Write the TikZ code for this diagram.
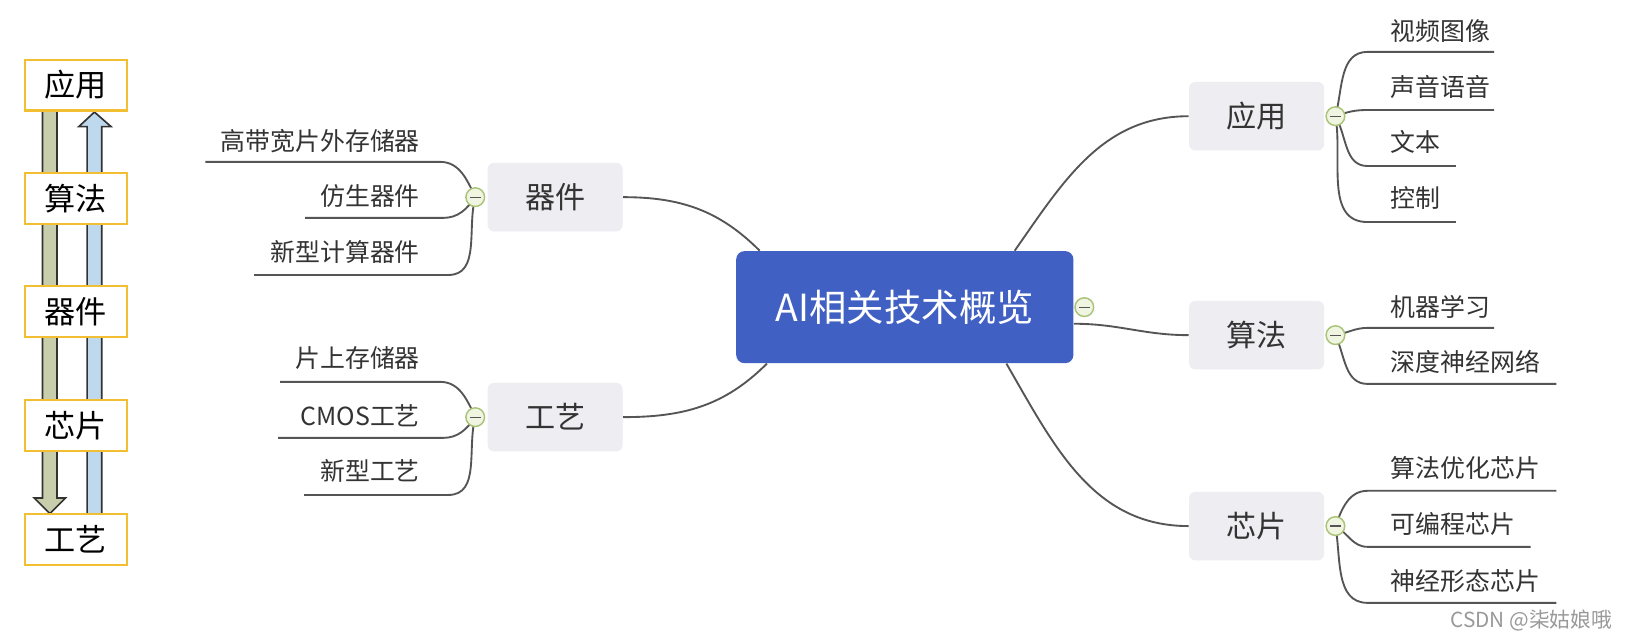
\documentclass[tikz,border=0pt]{standalone}
\usepackage{fontspec}
\setmainfont{Noto Sans CJK SC}
\usetikzlibrary{backgrounds}

\definecolor{stackedge}{RGB}{242,190,50}
\definecolor{downfill}{RGB}{200,206,172}
\definecolor{upfill}{RGB}{190,216,238}
\definecolor{hubblue}{RGB}{65,96,195}
\definecolor{topicgrey}{RGB}{237,237,242}
\definecolor{linegrey}{RGB}{85,85,85}
\definecolor{inkgrey}{RGB}{51,51,51}
\definecolor{foldedge}{RGB}{170,195,120}
\definecolor{foldfill}{RGB}{240,245,225}

\tikzset{
  stackbox/.style={draw=stackedge, line width=1pt, fill=white, minimum width=49pt,
    minimum height=24.5pt, inner sep=0pt, font=\fontsize{15}{15}\selectfont},
  hub/.style={fill=hubblue, text=white, rounded corners=4pt, minimum width=162.5pt,
    minimum height=54pt, font=\fontsize{18}{18}\selectfont},
  topic/.style={fill=topicgrey, text=inkgrey, rounded corners=3pt, minimum width=65pt,
    minimum height=33pt, font=\fontsize{14.5}{14.5}\selectfont},
  fold/.style={circle, draw=foldedge, fill=foldfill, line width=0.7pt, minimum size=9pt,
    inner sep=0pt, path picture={\draw[line width=0.6pt, linegrey]
      ([xshift=-2.6pt]path picture bounding box.center) --
      ([xshift=2.6pt]path picture bounding box.center);}},
  leafL/.style={anchor=east, inner sep=0pt, text height=0.88em, text depth=0.12em,
    text=inkgrey, font=\fontsize{12}{12}\selectfont},
  leafR/.style={leafL, anchor=west},
  twig/.style={draw=linegrey, line width=0.9pt},
  blockdown/.style={draw=black!80, line width=0.8pt, fill=downfill},
  blockup/.style={draw=black!80, line width=0.8pt, fill=upfill},
  wmark/.style={anchor=east, inner sep=0pt, text=black!40, font=\fontsize{10}{10}\selectfont},
}

\begin{document}
\begin{tikzpicture}[x=0.5pt,y=-0.5pt]
\useasboundingbox (0,0) rectangle (1568,615);

% stack on the left
\node[stackbox] (s-app) at (73,82) {应用};
\node[stackbox] (s-alg) at (73,191) {算法};
\node[stackbox] (s-dev) at (73,300) {器件};
\node[stackbox] (s-chip) at (73,410) {芯片};
\node[stackbox] (s-proc) at (73,520) {工艺};

% mind map
\node[hub] (ai) at (872,296) {AI相关技术概览};
\node[fold] (f-ai) at (1045,296) {};

\node[topic] (dev) at (535,190) {器件};
\node[fold] (f-dev) at (458,190) {};
\node[topic] (proc) at (535,402) {工艺};
\node[fold] (f-proc) at (458,402) {};
\node[topic] (app) at (1211,112) {应用};
\node[fold] (f-app) at (1287,112) {};
\node[topic] (alg) at (1211,323) {算法};
\node[fold] (f-alg) at (1287,323) {};
\node[topic] (chip) at (1211,507) {芯片};
\node[fold] (f-chip) at (1287,507) {};

% leaves, left
\node[leafL] (hbm) at (405,137) {高带宽片外存储器};
\node[leafL] (bio) at (405,190) {仿生器件};
\node[leafL] (ncd) at (405,244) {新型计算器件};
\node[leafL] (sram) at (405,347) {片上存储器};
\node[leafL] (cmos) at (405,402) {CMOS工艺};
\node[leafL] (newp) at (405,455) {新型工艺};
\coordinate (hbm-a) at (198,156);  \coordinate (hbm-b) at (424,156);
\coordinate (bio-a) at (294,210);  \coordinate (bio-b) at (427,210);
\coordinate (ncd-a) at (245,265);  \coordinate (ncd-b) at (432,265);
\coordinate (sram-a) at (270,368); \coordinate (sram-b) at (424,368);
\coordinate (cmos-a) at (268,422); \coordinate (cmos-b) at (427,422);
\coordinate (newp-a) at (293,477); \coordinate (newp-b) at (432,477);

% leaves, right
\node[leafR] (video) at (1340,31) {视频图像};
\node[leafR] (voice) at (1340,85) {声音语音};
\node[leafR] (text) at (1340,138) {文本};
\node[leafR] (ctrl) at (1340,192) {控制};
\node[leafR] (ml) at (1340,297) {机器学习};
\node[leafR] (dnn) at (1340,350) {深度神经网络};
\node[leafR] (aopt) at (1340,453) {算法优化芯片};
\node[leafR] (prog) at (1340,507) {可编程芯片};
\node[leafR] (neuro) at (1340,561) {神经形态芯片};
\coordinate (video-a) at (1318,50);  \coordinate (video-b) at (1440,50);
\coordinate (voice-a) at (1318,106); \coordinate (voice-b) at (1440,106);
\coordinate (text-a) at (1318,160);  \coordinate (text-b) at (1403,160);
\coordinate (ctrl-a) at (1318,214);  \coordinate (ctrl-b) at (1403,214);
\coordinate (ml-a) at (1318,316);    \coordinate (ml-b) at (1440,316);
\coordinate (dnn-a) at (1318,370);   \coordinate (dnn-b) at (1500,370);
\coordinate (aopt-a) at (1318,473);  \coordinate (aopt-b) at (1500,473);
\coordinate (prog-a) at (1318,527);  \coordinate (prog-b) at (1475,527);
\coordinate (neuro-a) at (1318,581); \coordinate (neuro-b) at (1500,581);

\node[wmark] (csdn) at (1554,598) {CSDN @柒姑娘哦};

\begin{scope}[on background layer]
\fill[white] (0,0) rectangle (1568,615);
% block arrows behind the stack
\draw[blockdown] (41,100) -- (55,100) -- (55,480) -- (63,480) -- (48,495) -- (33,480) -- (41,480) -- cycle;
\draw[blockup] (84,505) -- (98,505) -- (98,122) -- (107,122) -- (91,108) -- (76,122) -- (84,122) -- cycle;

% hub to topics
\draw[twig] (dev.east) to[out=0,in=135] ([xshift=11.5pt]ai.north west);
\draw[twig] (proc.east) to[out=0,in=225] ([xshift=15pt]ai.south west);
\draw[twig] ([xshift=-28.5pt]ai.north east) to[out=55,in=180] (app.west);
\draw[twig] ([yshift=-8pt]ai.east) to[out=0,in=180] (alg.west);
\draw[twig] ([xshift=-32.5pt]ai.south east) to[out=-60,in=180] (chip.west);

% topics to leaves
\draw[twig] (f-dev.center) to[out=115,in=0] (hbm-b) -- (hbm-a);
\draw[twig] (f-dev.center) to[out=235,in=0] (bio-b) -- (bio-a);
\draw[twig] (f-dev.center) to[out=255,in=0] (ncd-b) -- (ncd-a);
\draw[twig] (f-proc.center) to[out=115,in=0] (sram-b) -- (sram-a);
\draw[twig] (f-proc.center) to[out=235,in=0] (cmos-b) -- (cmos-a);
\draw[twig] (f-proc.center) to[out=255,in=0] (newp-b) -- (newp-a);

\draw[twig] (f-app.center) to[out=75,in=180] (video-a) -- (video-b);
\draw[twig] (f-app.center) to[out=20,in=180] (voice-a) -- (voice-b);
\draw[twig] (f-app.center) to[out=-60,in=180] (text-a) -- (text-b);
\draw[twig] (f-app.center) to[out=-80,in=180] (ctrl-a) -- (ctrl-b);
\draw[twig] (f-alg.center) to[out=10,in=180] (ml-a) -- (ml-b);
\draw[twig] (f-alg.center) to[out=-65,in=180] (dnn-a) -- (dnn-b);
\draw[twig] (f-chip.center) to[out=70,in=180] (aopt-a) -- (aopt-b);
\draw[twig] (f-chip.center) to[out=-30,in=180] (prog-a) -- (prog-b);
\draw[twig] (f-chip.center) to[out=-80,in=180] (neuro-a) -- (neuro-b);
\end{scope}
\end{tikzpicture}
\end{document}
